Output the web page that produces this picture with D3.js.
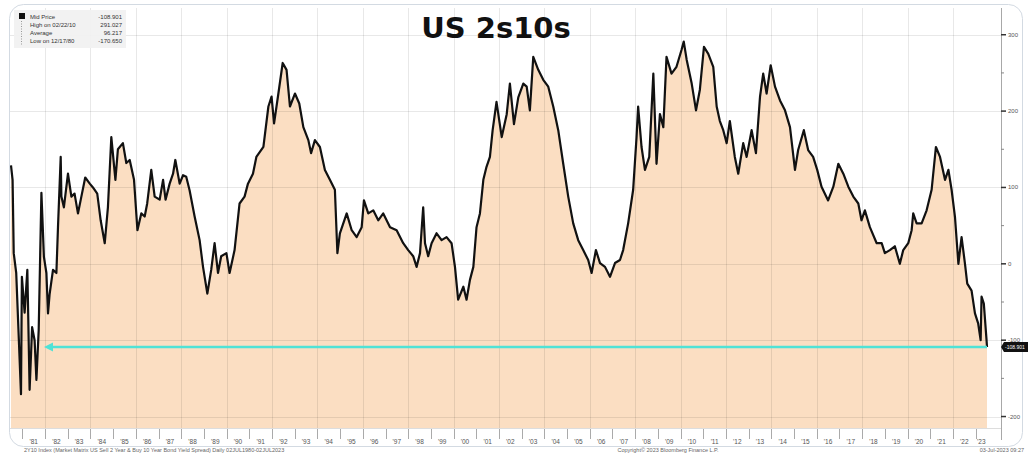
<!DOCTYPE html>
<html>
<head>
<meta charset="utf-8">
<title>US 2s10s</title>
<script src="https://cdn.jsdelivr.net/npm/d3@7"></script>
<style>
  html, body { margin: 0; padding: 0; background: #fff; }
  svg { display: block; font-family: "Liberation Sans", Arial, sans-serif; }
</style>
</head>
<body>
<svg width="1028" height="456"></svg>
<script>
// decimal year of each reading
const years = [
  1980.50,1980.57,1980.62,1980.73,1980.94,1980.98,1981.10,1981.22,1981.32,1981.43,1981.54,1981.62,1981.72,1981.84,1981.95,
  1982.06,1982.13,1982.20,1982.35,1982.50,1982.57,1982.69,1982.72,1982.83,1983.01,1983.16,1983.30,1983.45,1983.60,1983.77,1983.97,
  1984.11,1984.30,1984.45,1984.63,1984.77,1984.92,1985.10,1985.21,1985.43,1985.58,1985.73,1985.92,1986.07,1986.24,1986.39,1986.50,
  1986.68,1986.83,1987.05,1987.20,1987.31,1987.49,1987.64,1987.74,1987.93,1988.08,1988.22,1988.37,1988.59,1988.81,1988.96,1989.15,
  1989.32,1989.47,1989.62,1989.76,1989.99,1990.13,1990.35,1990.57,1990.79,1990.94,1991.16,1991.31,1991.62,1991.84,1991.98,1992.09,
  1992.28,1992.47,1992.64,1992.79,1993.01,1993.20,1993.38,1993.60,1993.72,1993.89,1994.11,1994.33,1994.55,1994.77,1994.88,1994.99,
  1995.29,1995.51,1995.73,1995.95,1996.05,1996.24,1996.46,1996.68,1996.90,1997.20,1997.49,1997.78,1998.00,1998.22,1998.37,1998.52,
  1998.66,1998.74,1998.88,1999.03,1999.25,1999.47,1999.69,1999.91,2000.06,2000.20,2000.43,2000.57,2000.72,2000.87,2001.01,2001.16,
  2001.31,2001.45,2001.60,2001.72,2001.89,2002.12,2002.34,2002.48,2002.66,2002.85,2003.07,2003.22,2003.36,2003.51,2003.73,2003.95,
  2004.17,2004.39,2004.61,2004.83,2005.05,2005.27,2005.49,2005.71,2005.93,2006.08,2006.27,2006.45,2006.67,2006.89,2007.11,2007.33,
  2007.47,2007.69,2007.91,2008.06,2008.13,2008.28,2008.43,2008.62,2008.80,2008.94,2009.09,2009.24,2009.38,2009.60,2009.82,2010.04,
  2010.14,2010.27,2010.49,2010.68,2010.85,2011.03,2011.22,2011.44,2011.59,2011.73,2011.88,2012.03,2012.17,2012.39,2012.54,2012.76,
  2012.91,2013.13,2013.32,2013.50,2013.64,2013.79,2013.97,2014.16,2014.38,2014.60,2014.82,2015.04,2015.18,2015.43,2015.62,2015.84,
  2016.02,2016.21,2016.50,2016.73,2016.95,2017.17,2017.39,2017.61,2017.83,2017.97,2018.12,2018.34,2018.64,2018.86,2019.00,2019.22,
  2019.44,2019.66,2019.81,2020.03,2020.18,2020.25,2020.40,2020.62,2020.84,2021.06,2021.25,2021.43,2021.65,2021.80,2021.94,2022.09,
  2022.24,2022.38,2022.53,2022.63,2022.82,2022.97,2023.11,2023.22,2023.26,2023.36,2023.48,2023.50
];
// 2s10s spread in bp
const spread = [
  129,110,14,-12,-170.65,-17,-64,-8,-165,-83,-100,-152,-87,93,9,
  -12,-65,-40,-8,-12,48,140,88,74,118,88,92,66,88,113,105,
  100,92,57,27,74,166,110,150,158,132,136,110,44,66,62,79,
  123,88,84,110,84,105,118,136,105,116,114,96,62,31,-4,-39,
  -8,27,-12,10,14,-12,18,79,88,105,118,140,153,206,219,184,
  223,263,254,206,223,210,179,162,145,162,153,123,110,97,14,40,
  66,44,35,48,83,66,70,57,66,48,44,27,18,10,-4,14,
  74,27,10,27,40,31,35,27,-4,-47,-30,-47,-21,-4,48,66,
  110,127,140,175,212,166,196,236,183,218,236,232,201,271,254,241,
  232,206,175,131,88,53,31,18,5,-12,18,1,-4,-17,1,5,
  18,53,97,166,206,153,123,140,249,131,196,179,271,249,258,280,
  291.03,267,236,201,228,284,275,258,206,187,175,158,187,140,118,158,
  140,175,145,219,249,223,260,232,214,201,179,123,149,175,149,140,
  123,101,83,101,131,118,101,88,79,57,70,48,27,27,14,18,
  23,0,18,27,44,66,53,53,70,97,153,140,110,123,97,61,
  0,35,0,-26,-35,-65,-78,-100,-43,-52,-100,-108.901
];
const lastPrice = -108.901;
const yTicks = [-200, -100, 0, 100, 200, 300];
const yMinor = [-150, -50, 50, 150, 250];
const legendLabels = ["Mid Price", "High on 02/22/10", "Average", "Low on 12/17/80"];
const legendValues = ["-108.901", "291.027", "96.217", "-170.650"];
const footLeft = "2Y10 Index (Market Matrix US Sell 2 Year & Buy 10 Year Bond Yield Spread)  Daily 02JUL1980-02JUL2023";
const footMid = "Copyright\u00a9 2023 Bloomberg Finance L.P.";
const footRight = "03-Jul-2023 09:27";

const svg = d3.select("svg");
const plotL = 10, plotR = 1001, plotT = 8, plotB = 428;

const x = d3.scaleLinear().domain([1980.5, 2023.5]).range([11, 987]);
const y = d3.scaleLinear().domain([-215, 335]).range([plotB, plotT]);

const data = years.map((d, i) => ({yr: d, v: spread[i]}));

// area + line
svg.append("path")
  .datum(data)
  .attr("fill", "#fbdec2")
  .attr("d", d3.area().x(d => x(d.yr)).y0(plotB).y1(d => y(d.v)));

// grid on top of fill
const grid = svg.append("g").attr("stroke", "#000").attr("stroke-opacity", 0.09);
grid.selectAll(".hg").data(yTicks).enter().append("line")
  .attr("x1", plotL).attr("x2", plotR)
  .attr("y1", d => Math.round(y(d)) + 0.5).attr("y2", d => Math.round(y(d)) + 0.5);
grid.selectAll(".vg").data(d3.range(1982, 2024, 2)).enter().append("line")
  .attr("y1", plotT).attr("y2", plotB)
  .attr("x1", d => Math.round(x(d)) + 0.5).attr("x2", d => Math.round(x(d)) + 0.5);

svg.append("path")
  .datum(data)
  .attr("fill", "none")
  .attr("stroke", "#111")
  .attr("stroke-width", 2.2)
  .attr("stroke-linejoin", "round")
  .attr("d", d3.line().x(d => x(d.yr)).y(d => y(d.v)));

// outer frame
svg.append("rect")
  .attr("x", 9.5).attr("y", 4.5).attr("width", 1013).attr("height", 442)
  .attr("rx", 14).attr("fill", "none").attr("stroke", "#d3dae2");

// right axis
svg.append("line").attr("x1", plotR + 0.5).attr("x2", plotR + 0.5)
  .attr("y1", plotT).attr("y2", plotB + 12).attr("stroke", "#a8a8a8");
svg.selectAll(".ymn").data(yMinor).enter().append("line")
  .attr("x1", plotR).attr("x2", plotR + 3)
  .attr("y1", d => y(d)).attr("y2", d => y(d)).attr("stroke", "#888");
svg.selectAll(".ymj").data(yTicks).enter().append("line")
  .attr("x1", plotR).attr("x2", plotR + 5)
  .attr("y1", d => y(d)).attr("y2", d => y(d)).attr("stroke", "#333").attr("stroke-width", 1.5);
svg.selectAll(".ylab").data(yTicks).enter().append("text")
  .attr("x", 1008).attr("y", d => y(d) + 2)
  .attr("font-size", 6).attr("fill", "#555")
  .text(d => d);

// bottom axis
const yrs = d3.range(1981, 2024);
svg.selectAll(".xt").data(yrs).enter().append("line")
  .attr("x1", d => Math.round(x(d)) + 0.5).attr("x2", d => Math.round(x(d)) + 0.5)
  .attr("y1", plotB).attr("y2", plotB + 11).attr("stroke", "#aaa");
svg.append("line").attr("x1", plotL).attr("x2", plotR).attr("y1", plotB + 0.5).attr("y2", plotB + 0.5)
  .attr("stroke", "#ddd");
svg.selectAll(".xl").data(yrs).enter().append("text")
  .attr("x", d => x(Math.min(d + 0.5, (d + 2023.5) / 2)))
  .attr("y", 444)
  .attr("text-anchor", "middle")
  .attr("font-size", 6.5).attr("fill", "#555")
  .text(d => "'" + String(d).slice(2));

// last price arrow
const ly = y(lastPrice);
svg.append("line").attr("x1", 50).attr("x2", x(2023.5)).attr("y1", ly).attr("y2", ly)
  .attr("stroke", "#4fe2d6").attr("stroke-width", 2.6);
svg.append("path")
  .attr("d", `M44,${ly} L53,${ly - 4.5} L53,${ly + 4.5} Z`)
  .attr("fill", "#4fe2d6");

// last price tag
svg.append("path")
  .attr("d", `M1001,${ly} L1004,${ly - 5} L1028,${ly - 5} L1028,${ly + 5} L1004,${ly + 5} Z`)
  .attr("fill", "#111");
svg.append("text").attr("x", 1005).attr("y", ly + 1.8)
  .attr("font-size", 5).attr("fill", "#fff").text(lastPrice.toFixed(3));

// legend
const lg = svg.append("g");
lg.append("rect").attr("x", 14).attr("y", 10).attr("width", 112).attr("height", 38)
  .attr("fill", "#f1f1f1").attr("opacity", 0.92);
lg.append("rect").attr("x", 19).attr("y", 13).attr("width", 6).attr("height", 6).attr("fill", "#111");
lg.append("line").attr("x1", 21.5).attr("x2", 21.5).attr("y1", 21).attr("y2", 46)
  .attr("stroke", "#999").attr("stroke-dasharray", "1,1.5");
lg.selectAll(".ll").data(legendLabels).enter().append("text")
  .attr("x", 30).attr("y", (d, i) => 18.5 + i * 8.3)
  .attr("font-size", 6).attr("fill", "#333").text(d => d);
lg.selectAll(".lv").data(legendValues).enter().append("text")
  .attr("x", 122).attr("y", (d, i) => 18.5 + i * 8.3)
  .attr("text-anchor", "end")
  .attr("font-size", 6).attr("fill", "#333").text(d => d);

// title
svg.append("text")
  .attr("x", 496).attr("y", 38)
  .attr("text-anchor", "middle")
  .attr("font-family", "'DejaVu Sans', sans-serif")
  .attr("font-weight", "bold").attr("font-size", 29).attr("fill", "#111")
  .text("US 2s10s");

// footer
svg.append("text").attr("x", 24).attr("y", 452).attr("font-size", 5.5).attr("fill", "#666").text(footLeft);
svg.append("text").attr("x", 668).attr("y", 452).attr("text-anchor", "middle")
  .attr("font-size", 5.5).attr("fill", "#666").text(footMid);
svg.append("text").attr("x", 1024).attr("y", 452).attr("text-anchor", "end")
  .attr("font-size", 5.5).attr("fill", "#666").text(footRight);
</script>
</body>
</html>
